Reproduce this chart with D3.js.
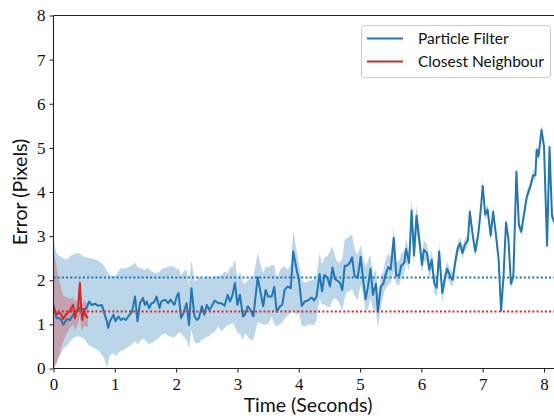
<!DOCTYPE html>
<html>
<head>
<meta charset="utf-8">
<script src="https://cdn.jsdelivr.net/npm/d3@7"></script>
<style>
  body { margin: 0; background: #fff; }
  svg { display: block; }
</style>
</head>
<body>
<svg id="chart" width="554" height="416"></svg>
<script>
// ---- data ----
const seriesNames = ["Particle Filter", "Closest Neighbour"];
const xTicks = [0, 1, 2, 3, 4, 5, 6, 7, 8];
const yTicks = [0, 1, 2, 3, 4, 5, 6, 7, 8];

// particle filter: time (s), error (px), band top / bottom (px)
const pfTime = [
  0.00,0.05,0.11,0.16,0.22,0.27,0.32,0.38,0.43,0.49,0.54,0.58,0.62,0.68,0.73,0.79,0.82,0.87,0.89,0.92,0.98,1.01,1.06,1.10,1.14,1.18,1.23,1.28,1.33,1.37,1.41,1.46,1.49,1.52,1.56,1.60,1.64,1.68,1.73,1.76,1.82,1.87,1.91,1.97,2.01,2.04,
  2.08,2.12,2.17,2.21,2.25,2.30,2.34,2.37,2.42,2.46,2.50,2.54,2.58,2.63,2.69,2.74,2.79,2.84,2.88,2.92,2.96,3.00,3.04,3.09,3.12,3.17,3.21,3.26,3.33,3.39,3.42,3.46,3.50,3.56,3.60,3.64,3.70,3.73,3.77,3.82,3.87,3.91,3.97,4.00,4.05,
  4.10,4.15,4.21,4.25,4.29,4.34,4.38,4.42,4.47,4.51,4.55,4.59,4.63,4.67,4.71,4.75,4.79,4.83,4.87,4.91,4.96,5.01,5.05,5.09,5.13,5.17,5.21,5.26,5.29,5.34,5.38,5.41,5.46,5.50,5.55,5.59,5.64,5.67,5.72,5.75,5.80,5.84,5.88,5.92,5.96,6.01,
  6.04,6.09,6.13,6.17,6.21,6.25,6.29,6.34,6.39,6.42,6.47,6.51,6.55,6.59,6.63,6.67,6.71,6.76,6.79,6.84,6.88,6.93,6.97,7.00,7.04,7.08,7.13,7.17,7.22,7.26,7.30,7.34,7.38,7.42,7.46,7.50,7.55,7.59,7.63,7.68,7.72,7.78,7.82,7.86,7.88,7.91,7.96,8.00,8.05,8.09,8.13,8.17
];
const pfError = [
  1.44,1.14,1.14,0.99,1.12,1.10,1.22,1.29,1.37,1.33,1.37,1.52,1.44,1.47,1.42,1.44,1.29,1.07,0.92,1.07,1.22,1.07,1.18,1.10,1.14,1.10,1.20,1.29,1.63,1.07,1.48,1.60,1.44,1.52,1.37,1.48,1.50,1.63,1.37,1.52,1.56,1.48,1.56,1.44,1.63,1.71,
  1.14,1.26,1.48,0.99,1.82,1.18,1.10,1.14,1.41,1.22,1.44,1.33,1.41,1.54,1.48,1.48,1.42,1.67,1.52,1.67,1.94,1.44,1.67,1.18,1.22,1.41,1.33,1.18,2.07,1.63,1.41,1.78,1.63,1.63,1.85,1.29,1.42,1.44,1.78,1.86,1.82,2.65,2.20,2.04,1.42,
  1.52,1.54,1.61,1.54,1.63,2.14,1.75,2.12,2.05,1.86,2.29,2.03,1.99,1.95,1.78,2.33,2.33,2.39,2.52,2.10,2.05,2.53,2.01,1.57,1.86,2.26,1.67,1.92,1.29,1.86,1.92,2.10,2.30,2.24,2.96,2.10,2.12,2.33,2.39,2.71,2.39,3.58,2.56,3.46,2.99,2.35,
  2.69,2.62,2.24,2.46,1.93,1.83,2.65,1.71,2.09,2.26,2.09,2.01,2.39,2.71,2.84,2.62,2.81,2.91,3.55,2.99,2.65,3.07,3.62,4.14,3.49,3.60,3.01,3.55,2.99,2.46,1.31,2.09,3.31,2.92,1.92,2.09,4.46,3.25,3.10,3.55,3.90,4.14,4.37,4.38,4.96,4.81,5.41,5.03,2.78,5.02,3.45,3.32
];
const pfUpper = [
  2.88,2.60,2.54,2.50,2.47,2.55,2.58,2.62,2.60,2.54,2.52,2.50,2.50,2.47,2.45,2.38,2.33,2.22,2.18,2.12,2.09,2.10,2.20,2.28,2.26,2.28,2.30,2.35,2.40,2.30,2.28,2.25,2.24,2.27,2.25,2.20,2.18,2.16,2.20,2.25,2.28,2.30,2.33,2.30,2.24,2.28,
  2.09,2.20,2.24,1.90,2.45,1.98,2.00,2.09,2.02,2.05,2.09,2.05,2.05,2.09,2.09,2.12,2.20,2.16,2.28,2.31,2.47,2.00,2.20,1.94,1.93,2.00,2.05,2.07,2.62,2.28,2.16,2.31,2.28,2.35,2.35,2.05,2.24,2.30,2.31,2.24,2.35,3.14,2.62,2.40,2.00,
  1.95,1.98,2.00,2.02,2.10,2.61,2.35,2.52,2.55,2.65,2.77,2.55,2.40,2.40,2.50,2.92,2.95,3.00,3.03,2.70,2.58,2.80,2.50,2.30,2.45,2.58,2.10,2.25,1.65,2.10,2.20,2.45,2.60,2.55,3.20,2.40,2.45,2.60,2.65,2.95,2.65,3.86,2.90,3.70,3.25,2.55,
  2.90,2.82,2.45,2.68,2.15,2.05,2.85,1.92,2.28,2.42,2.25,2.17,2.55,2.85,2.98,2.76,2.94,3.05,3.70,3.12,2.78,3.20,3.74,4.28,3.62,3.72,3.14,3.67,3.10,2.57,1.43,2.20,3.43,3.03,2.03,2.20,4.58,3.36,3.21,3.66,4.01,4.25,4.49,4.49,5.07,4.92,5.53,5.14,2.90,5.13,3.56,3.43
];
const pfLower = [
  0.00,0.15,0.30,0.45,0.52,0.62,0.68,0.73,0.72,0.68,0.60,0.52,0.50,0.45,0.42,0.30,0.25,0.02,0.10,0.30,0.35,0.28,0.35,0.40,0.42,0.46,0.50,0.55,0.62,0.55,0.62,0.68,0.65,0.60,0.56,0.58,0.62,0.66,0.70,0.76,0.80,0.74,0.72,0.70,0.76,0.82,
  0.80,0.72,0.65,0.46,0.88,0.60,0.57,0.57,0.65,0.68,0.72,0.73,0.80,0.84,0.95,0.84,0.92,0.98,1.00,1.03,0.95,0.80,0.80,0.65,0.80,0.72,0.65,0.65,1.05,1.02,1.00,1.00,1.00,1.18,1.02,0.95,1.02,1.05,1.13,1.20,1.25,1.33,1.20,1.30,0.95,
  0.95,1.00,1.00,0.98,1.10,1.60,1.45,1.45,1.40,1.40,1.55,1.60,1.55,1.45,1.30,1.60,1.75,1.75,1.80,1.65,1.55,1.90,1.70,1.30,1.35,1.60,1.35,1.30,0.91,1.40,1.65,1.80,1.90,1.95,2.20,1.90,1.90,2.05,2.15,2.40,2.20,3.20,2.35,3.10,2.75,2.15,
  2.45,2.40,2.02,2.25,1.72,1.62,2.42,1.52,1.90,2.08,1.92,1.85,2.23,2.57,2.70,2.48,2.68,2.78,3.42,2.86,2.52,2.95,3.50,4.02,3.37,3.48,2.88,3.43,2.87,2.35,1.18,1.98,3.19,2.81,1.80,1.98,4.34,3.14,2.99,3.44,3.79,4.03,4.25,4.27,4.85,4.70,5.29,4.92,2.66,4.91,3.34,3.21
];

// closest neighbour (short run at the start)
const cnTime  = [0.00,0.05,0.09,0.13,0.16,0.20,0.26,0.30,0.32,0.35,0.38,0.40,0.43,0.45,0.47,0.50,0.52,0.56];
const cnError = [1.39,1.22,1.27,1.22,1.12,1.22,1.29,1.39,1.44,1.14,1.33,1.35,1.94,1.41,1.10,1.35,1.22,1.14];
const cnUpper = [2.69,2.30,2.00,1.80,1.65,1.62,1.58,1.60,1.62,1.52,1.55,1.58,2.12,1.60,1.45,1.55,1.50,1.45];
const cnLower = [0.00,0.10,0.30,0.50,0.62,0.75,0.90,0.98,1.00,0.85,0.95,1.00,1.20,0.95,0.85,0.98,0.95,0.95];

// overall mean error of each method (dotted lines)
const meanError = [2.06, 1.29];

// ---- layout ----
const width = 554, height = 416;
const plotLeft = 53.5, plotTop = 15.5, plotBottom = 368.5;
const xMax = 8.163;   // axes run past the right edge of the picture

const colors = ["#1f77b4", "#d62728"];

const svg = d3.select("#chart");

const x = d3.scaleLinear().domain([0, xMax]).range([plotLeft, width]);
const y = d3.scaleLinear().domain([0, 8]).range([plotBottom, plotTop]);

svg.append("defs").append("clipPath")
    .attr("id", "plot-clip")
  .append("rect")
    .attr("x", plotLeft)
    .attr("y", plotTop)
    .attr("width", width - plotLeft)
    .attr("height", plotBottom - plotTop);

const plot = svg.append("g").attr("clip-path", "url(#plot-clip)");

const series = [
  { time: pfTime, value: pfError, upper: pfUpper, lower: pfLower },
  { time: cnTime, value: cnError, upper: cnUpper, lower: cnLower }
];

const area = d3.area()
    .x(d => x(d.t))
    .y0(d => y(d.lo))
    .y1(d => y(d.hi));

const line = d3.line()
    .x(d => x(d.t))
    .y(d => y(d.v));

const rows = series.map(s => s.time.map((t, i) => ({ t: t, v: s.value[i], hi: s.upper[i], lo: s.lower[i] })));

// bands first, then the lines on top
rows.forEach((r, i) => {
  plot.append("path")
      .datum(r)
      .attr("d", area)
      .attr("fill", colors[i])
      .attr("fill-opacity", 0.3)
      .attr("stroke", "none");
});

rows.forEach((r, i) => {
  plot.append("path")
      .datum(r)
      .attr("d", line)
      .attr("fill", "none")
      .attr("stroke", colors[i])
      .attr("stroke-width", 2)
      .attr("stroke-linejoin", "round");
});

// mean lines
meanError.forEach((m, i) => {
  plot.append("line")
      .attr("x1", x(0))
      .attr("x2", width)
      .attr("y1", y(m))
      .attr("y2", y(m))
      .attr("stroke", colors[i])
      .attr("stroke-width", 2)
      .attr("stroke-dasharray", "2,2.2");
});

// ---- axes ----
const tickFont = "'Liberation Serif', 'DejaVu Serif', serif";
const labelFont = "Lato, 'Open Sans', sans-serif";

const xAxis = svg.append("g")
    .attr("transform", `translate(0,${plotBottom})`)
    .call(d3.axisBottom(x).tickValues(xTicks).tickFormat(d3.format("d")).tickSize(4).tickPadding(5));

const yAxis = svg.append("g")
    .attr("transform", `translate(${plotLeft},0)`)
    .call(d3.axisLeft(y).tickValues(yTicks).tickFormat(d3.format("d")).tickSize(4).tickPadding(4));

[xAxis, yAxis].forEach(g => {
  g.select(".domain").remove();
  g.selectAll(".tick line").attr("stroke", "#222").attr("stroke-width", 1);
  g.selectAll(".tick text")
      .attr("fill", "#111")
      .style("font-family", tickFont)
      .style("font-size", "17px");
});

// spines: left, bottom and top (right one is outside the picture)
const spines = svg.append("g").attr("stroke", "#222").attr("stroke-width", 1.1);
spines.append("line").attr("x1", plotLeft).attr("x2", plotLeft).attr("y1", plotTop).attr("y2", plotBottom);
spines.append("line").attr("x1", plotLeft).attr("x2", width).attr("y1", plotBottom).attr("y2", plotBottom);
spines.append("line").attr("x1", plotLeft).attr("x2", width).attr("y1", plotTop).attr("y2", plotTop);

svg.append("text")
    .attr("x", 308)
    .attr("y", 412)
    .attr("text-anchor", "middle")
    .attr("fill", "#111")
    .style("font-family", labelFont)
    .style("font-size", "19.5px")
    .text("Time (Seconds)");

svg.append("text")
    .attr("transform", "translate(27,192) rotate(-90)")
    .attr("text-anchor", "middle")
    .attr("fill", "#111")
    .style("font-family", labelFont)
    .style("font-size", "19.5px")
    .text("Error (Pixels)");

// ---- legend ----
const legend = svg.append("g");

legend.append("rect")
    .attr("x", 361.5)
    .attr("y", 25.5)
    .attr("width", 189)
    .attr("height", 52)
    .attr("rx", 3)
    .attr("fill", "#fff")
    .attr("fill-opacity", 0.8)
    .attr("stroke", "#cccccc");

const legendRows = [38.5, 61.5];
seriesNames.forEach((name, i) => {
  legend.append("line")
      .attr("x1", 367)
      .attr("x2", 403)
      .attr("y1", legendRows[i])
      .attr("y2", legendRows[i])
      .attr("stroke", colors[i])
      .attr("stroke-width", 2);

  legend.append("text")
      .attr("x", 418)
      .attr("y", legendRows[i])
      .attr("dy", "0.35em")
      .attr("fill", "#111")
      .style("font-family", labelFont)
      .style("font-size", "15.5px")
      .text(name);
});
</script>
</body>
</html>
